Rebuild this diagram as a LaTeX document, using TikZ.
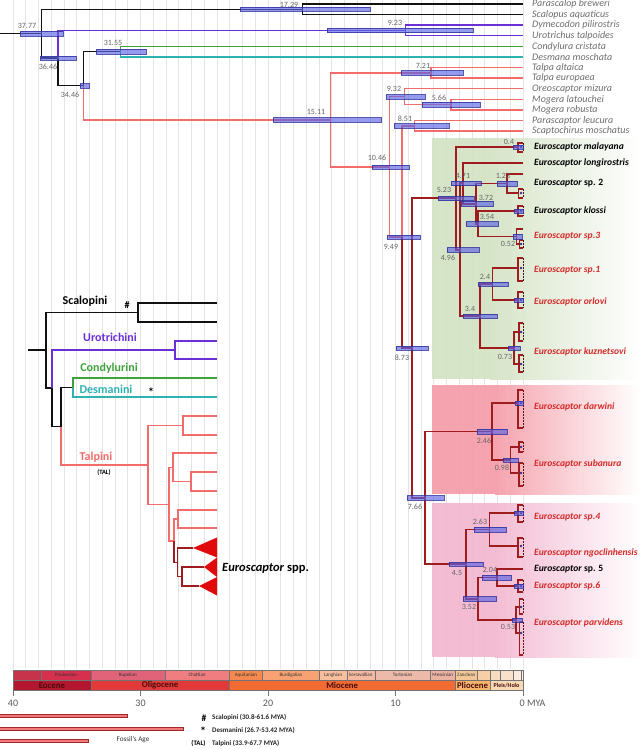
\documentclass[tikz,border=0pt]{standalone}
\usepackage{fontspec}
\setmainfont{Carlito}
\definecolor{cScal}{HTML}{111111}
\definecolor{cUro}{HTML}{6B2FD6}
\definecolor{cCon}{HTML}{3FA33A}
\definecolor{cDes}{HTML}{2FB2B2}
\definecolor{cTal}{HTML}{F36B6B}
\definecolor{cEur}{HTML}{9E1B1E}
\definecolor{hpdF}{HTML}{5C64E6}
\definecolor{hpdD}{HTML}{2E2E9A}
\definecolor{ageC}{HTML}{666666}
\definecolor{spC}{HTML}{6E6E6E}
\definecolor{redL}{HTML}{D42A2A}
\definecolor{pG}{HTML}{D2E2C2}
\definecolor{pR}{HTML}{F59AA6}
\definecolor{pP}{HTML}{F3B5CF}
\definecolor{triR}{HTML}{E00A0A}
\definecolor{gridC}{HTML}{E4E4E4}
\definecolor{epoT}{HTML}{4A0D0D}
\definecolor{fosF}{HTML}{F07A7A}
\definecolor{fosD}{HTML}{A02828}
\definecolor{sBart}{HTML}{C8334C}
\definecolor{sPria}{HTML}{D6304F}
\definecolor{sRupe}{HTML}{E0637A}
\definecolor{sChat}{HTML}{F07E80}
\definecolor{sAqui}{HTML}{F5894F}
\definecolor{sBurd}{HTML}{F8A274}
\definecolor{sLang}{HTML}{F8BF9E}
\definecolor{sSerr}{HTML}{F4B9A0}
\definecolor{sTort}{HTML}{EDB9A8}
\definecolor{sMess}{HTML}{EBB2A2}
\definecolor{sZanc}{HTML}{F3C697}
\definecolor{sPiac}{HTML}{F6CFA6}
\definecolor{sGela}{HTML}{F8DCC0}
\definecolor{sCala}{HTML}{F9E2CC}
\definecolor{sChib}{HTML}{FBEBDD}
\definecolor{sLate}{HTML}{FCF0E6}
\definecolor{eEoc}{HTML}{B3172F}
\definecolor{eOli}{HTML}{E13A38}
\definecolor{eMio}{HTML}{F26B33}
\definecolor{ePli}{HTML}{F7B56C}
\definecolor{ePle}{HTML}{F8D9B6}
\tikzset{
  gridl/.style={draw=gridC, line width=0.6pt},
  brn/.style={line width=1.4pt, line join=miter},
  cS/.style={brn, draw=cScal},
  cU/.style={brn, draw=cUro},
  cC/.style={brn, draw=cCon},
  cD/.style={brn, draw=cDes},
  cT/.style={brn, draw=cTal},
  cE/.style={line width=1.8pt, line join=miter, draw=cEur},
  tipdash/.style={draw=cEur!55!black, line width=1pt, dash pattern=on 2pt off 1pt},
  hpdbar/.style={fill=hpdF, fill opacity=0.65, draw=hpdD, draw opacity=0.8, line width=0.4pt},
  sp/.style={anchor=west, inner sep=0pt, text=spC, font=\itshape\fontsize{10}{11}\selectfont},
  eb/.style={anchor=west, inner sep=0pt, text=black, font=\bfseries\fontsize{9.6}{10}\selectfont},
  er/.style={eb, text=redL},
  age/.style={inner sep=0pt, text=ageC, font=\fontsize{8}{9}\selectfont},
  ins/.style={inner sep=0pt, font=\bfseries\fontsize{12}{13}\selectfont},
  iS/.style={line width=1.8pt, line join=miter, draw=cScal},
  iU/.style={line width=1.8pt, line join=miter, draw=cUro},
  iC/.style={line width=1.8pt, line join=miter, draw=cCon},
  iD/.style={line width=1.8pt, line join=miter, draw=cDes},
  iT/.style={line width=1.8pt, line join=miter, draw=cTal},
  iE/.style={line width=1.8pt, line join=miter, draw=cEur},
  stg/.style={inner sep=0pt, font=\fontsize{5}{5.5}\selectfont, text=black!80},
  epo/.style={inner sep=0pt, font=\bfseries\fontsize{8.8}{9}\selectfont, text=epoT},
  tsb/.style={draw=black!55, line width=0.4pt},
  axl/.style={inner sep=0pt, text=black!65, font=\fontsize{10}{11}\selectfont},
  leg/.style={anchor=west, inner sep=0pt, font=\bfseries\fontsize{7}{7.5}\selectfont, text=black!85},
}
\newcommand{\hpd}[3]{\path[hpdbar] (#1,#3-2.2) rectangle (#2,#3+2.2);}
\newcommand{\tipc}[5]{%
  \coordinate (#1) at (#2,#3);
  \coordinate (#1u) at (523,#4);
  \coordinate (#1d) at (523,#5);
  \draw[cE] (#1) |- (#1u);
  \draw[cE] (#1) |- (#1d);
  \draw[tipdash] (#1u) -- (#1d);
  \fill[hpdD] (521,#3) circle (1.4);}
\newcommand{\tsStage}[5]{%
  \path[fill=#4, tsb] (#2,670) rectangle (#3,680);
  \node[stg] (st#1) at ({(#2+#3)/2},675) {#5};}
\newcommand{\tsEpoch}[5]{%
  \path[fill=#4, tsb] (#2,680) rectangle (#3,690);
  \node[epo] (ep#1) at ({(#2+#3)/2},685.3) {#5};}
\begin{document}
\begin{tikzpicture}[x=1pt,y=-1pt]
\useasboundingbox (0,0) rectangle (640,749);
\fill[white] (0,0) rectangle (640,749);
% grid
\foreach \k in {0,...,40} \draw[gridl] ({523-12.75*\k},0) -- ({523-12.75*\k},669);
% panels
\fill[pG, fill opacity=0.9] (432,138) rectangle (490,379);
\shade[left color=pG, right color=white, fill opacity=0.9] (490,138) rectangle (640,379);
\fill[pR, fill opacity=0.9] (432,385) rectangle (495,494);
\shade[left color=pR, right color=white, fill opacity=0.9] (495,385) rectangle (640,494);
\fill[pP, fill opacity=0.9] (432,503) rectangle (495,657);
\shade[left color=pP, right color=white, fill opacity=0.9] (495,503) rectangle (640,657);

% ---------- main tree coordinates
\coordinate (root) at (0,33.7);
\coordinate (n3777) at (41.4,33.7);
\coordinate (n1729) at (302.6,9.3);
\coordinate (n3646) at (58.1,58.2);
\coordinate (n923) at (405.3,30.5);
\coordinate (n3446) at (83.6,85.8);
\coordinate (n3155) at (120.7,51.7);
\coordinate (n1511) at (330.3,119.9);
\coordinate (n721) at (431,72.9);
\coordinate (n1046) at (389.6,166.9);
\coordinate (n932) at (404.2,96.75);
\coordinate (n566) at (450.8,104.7);
\coordinate (n949) at (402,237);
\coordinate (n851) at (414.5,125.9);
\coordinate (n873) at (411.7,348);
\coordinate (n523) at (456.3,198.3);
\coordinate (n766) at (425.3,497.8);
\coordinate (n496) at (459.8,249.7);
\coordinate (n471) at (463,183.3);
\coordinate (n372) at (475.6,203.6);
\coordinate (n123) at (507.3,183.5);
\coordinate (n354) at (477.9,223.75);
\coordinate (n052) at (516.4,236.5);
\coordinate (n34) at (479.6,316);
\coordinate (n24) at (492.4,284);
\coordinate (n073) at (513.7,348);
\coordinate (n246) at (491.6,431.5);
\coordinate (n098) at (510.5,460);
\coordinate (n45) at (465.6,564.1);
\coordinate (n263) at (489.5,529.5);
\coordinate (n352) at (478.1,598.75);
\coordinate (n204) at (497,577.5);
\coordinate (n053) at (516.2,620);
% top leaves
\coordinate (lPB) at (523,4);
\coordinate (lSA) at (523,14.6);
\coordinate (lDP) at (523,25.2);
\coordinate (lUT) at (523,35.8);
\coordinate (lCC) at (523,46.4);
\coordinate (lDM) at (523,57);
\coordinate (lTA) at (523,67.6);
\coordinate (lTE) at (523,78.2);
\coordinate (lOM) at (523,88.8);
\coordinate (lML) at (523,99.4);
\coordinate (lMR) at (523,110);
\coordinate (lPL) at (523,120.6);
\coordinate (lSM) at (523,131.2);
\coordinate (lLo) at (523,163);
\coordinate (l2a) at (523,174);
\coordinate (l3a) at (523,229);
\coordinate (l5) at (523,569);

% ---------- main tree branches
\draw[cS] (root) -- (n3777);
\draw[cS] (n3777) |- (n1729);
\draw[cS] (n1729) |- (lPB);
\draw[cS] (n1729) |- (lSA);
\draw[cS] (n3777) |- (n3646);
\draw[cU] (n3646) |- (n923);
\draw[cU] (n923) |- (lDP);
\draw[cU] (n923) |- (lUT);
\draw[cS] (n3646) |- (n3446);
\draw[cS] (n3446) |- (n3155);
\draw[cC] (n3155) |- (lCC);
\draw[cD] (n3155) |- (lDM);
\draw[cT] (n3446) |- (n1511);
\draw[cT] (n1511) |- (n721);
\draw[cT] (n721) |- (lTA);
\draw[cT] (n721) |- (lTE);
\draw[cT] (n1511) |- (n1046);
\draw[cT] (n1046) |- (n932);
\draw[cT] (n932) |- (lOM);
\draw[cT] (n932) |- (n566);
\draw[cT] (n566) |- (lML);
\draw[cT] (n566) |- (lMR);
\draw[cT] (n1046) |- (n949);
\draw[cT] (n949) |- (n851);
\draw[cT] (n851) |- (lPL);
\draw[cT] (n851) |- (lSM);
\draw[cE] (n949) |- (n873);
\draw[cE] (n873) |- (n523);
\draw[cE] (n873) |- (n766);
\tipc{n040}{517.9}{147}{143}{152}
\draw[cE] (n523) |- (n040);
\draw[cE] (n523) |- (n496);
\draw[cE] (n496) |- (n471);
\draw[cE] (n496) |- (n34);
\draw[cE] (n471) |- (lLo);
\draw[cE] (n471) |- (n372);
\draw[cE] (n372) |- (n123);
\draw[cE] (n372) |- (n354);
\tipc{t2b}{518.5}{193}{189}{198}
\draw[cE] (n123) |- (l2a);
\draw[cE] (n123) |- (t2b);
\tipc{tKl}{518}{211}{206}{216}
\draw[cE] (n354) |- (tKl);
\draw[cE] (n354) |- (n052);
\tipc{t3b}{519.5}{244}{240}{248}
\draw[cE] (n052) |- (l3a);
\draw[cE] (n052) |- (t3b);
\tipc{t1}{518}{268}{258}{281}
\tipc{tOr}{518}{300}{292}{308}
\draw[cE] (n34) |- (n24);
\draw[cE] (n34) |- (n073);
\draw[cE] (n24) |- (t1);
\draw[cE] (n24) |- (tOr);
\tipc{tKu1}{519}{332}{323}{341}
\tipc{tKu2}{519}{364}{355}{372}
\draw[cE] (n073) |- (tKu1);
\draw[cE] (n073) |- (tKu2);
\draw[cE] (n766) |- (n246);
\draw[cE] (n766) |- (n45);
\tipc{tDa}{518}{403}{390}{428}
\draw[cE] (n246) |- (tDa);
\draw[cE] (n246) |- (n098);
\tipc{tSu1}{519}{447}{442}{452}
\tipc{tSu2}{519}{473}{463}{486}
\draw[cE] (n098) |- (tSu1);
\draw[cE] (n098) |- (tSu2);
\draw[cE] (n45) |- (n263);
\draw[cE] (n45) |- (n352);
\tipc{t4}{518}{513}{505}{522}
\tipc{tNg}{518}{546}{538}{557}
\draw[cE] (n263) |- (t4);
\draw[cE] (n263) |- (tNg);
\draw[cE] (n352) |- (n204);
\draw[cE] (n352) |- (n053);
\tipc{t6}{518}{586}{580}{592}
\draw[cE] (n204) |- (l5);
\draw[cE] (n204) |- (t6);
\tipc{tPa1}{519.5}{607}{599}{614}
\tipc{tPa2}{519.5}{633}{622}{655}
\draw[cE] (n053) |- (tPa1);
\draw[cE] (n053) |- (tPa2);

% ---------- HPD bars
\hpd{20}{63}{33.7}
\hpd{40}{76}{58.2}
\hpd{80}{89}{85.8}
\hpd{96}{146}{51.7}
\hpd{240}{370}{9.3}
\hpd{327}{473}{30.5}
\hpd{273}{381}{119.9}
\hpd{401}{463}{72.9}
\hpd{386}{425}{96.75}
\hpd{422}{480}{104.7}
\hpd{394}{449}{125.9}
\hpd{372}{409}{166.9}
\hpd{387}{420}{237}
\hpd{396}{428}{348}
\hpd{407}{444}{497.8}
\hpd{438}{474}{198.3}
\hpd{451}{481}{183.3}
\hpd{461}{493}{203.6}
\hpd{466}{498}{223.75}
\hpd{497}{517}{183.5}
\hpd{513}{522}{236.5}
\hpd{447}{479}{249.7}
\hpd{513}{523}{147}
\hpd{463}{497}{316}
\hpd{478}{508}{284}
\hpd{508}{520}{348}
\hpd{477}{507}{431.5}
\hpd{503}{518}{460}
\hpd{449}{483}{564.1}
\hpd{474}{506}{529.5}
\hpd{463}{496}{598.75}
\hpd{482}{511}{577.5}
\hpd{512}{522}{620}
\hpd{514}{523}{211}
\hpd{514}{523}{300}
\hpd{514}{523}{513}
\hpd{514}{523}{586}
\hpd{515}{523}{403}

% ---------- age labels
\node[age] (a3777) at (27,26) {37.77};
\node[age] (a3646) at (48,67) {36.46};
\node[age] (a3446) at (70,94.5) {34.46};
\node[age] (a3155) at (113,43) {31.55};
\node[age] (a1729) at (289,4.5) {17.29};
\node[age] (a923) at (395,22.5) {9.23};
\node[age] (a1511) at (316,112) {15.11};
\node[age] (a721) at (423,65.5) {7.21};
\node[age] (a932) at (394,89) {9.32};
\node[age] (a566) at (439,97.5) {5.66};
\node[age] (a851) at (405,118.5) {8.51};
\node[age] (a1046) at (377,158) {10.46};
\node[age] (a949) at (391,247) {9.49};
\node[age] (a873) at (402,358) {8.73};
\node[age] (a766) at (415,507) {7.66};
\node[age] (a523) at (444,189.5) {5.23};
\node[age] (a471) at (463,176) {4.71};
\node[age] (a372) at (486,198) {3.72};
\node[age] (a123) at (503,176) {1.23};
\node[age] (a354) at (487,217) {3.54};
\node[age] (a052) at (508,243.5) {0.52};
\node[age] (a496) at (448,257.5) {4.96};
\node[age] (a040) at (509,142) {0.4};
\node[age] (a24) at (485,276.5) {2.4};
\node[age] (a34) at (470,309) {3.4};
\node[age] (a073) at (505,357) {0.73};
\node[age] (a246) at (484,441) {2.46};
\node[age] (a098) at (502,468) {0.98};
\node[age] (a263) at (480,522) {2.63};
\node[age] (a45) at (457,573) {4.5};
\node[age] (a204) at (490,570) {2.04};
\node[age] (a352) at (469,607) {3.52};
\node[age] (a053) at (508,627) {0.53};

% ---------- species labels
\node[sp] (sPB) at (532,4) {Parascalop breweri};
\node[sp] (sSA) at (532,14.6) {Scalopus aquaticus};
\node[sp] (sDP) at (532,25.2) {Dymecodon pilirostris};
\node[sp] (sUT) at (532,35.8) {Urotrichus talpoides};
\node[sp] (sCC) at (532,46.4) {Condylura cristata};
\node[sp] (sDM) at (532,57) {Desmana moschata};
\node[sp] (sTA) at (532,67.6) {Talpa altaica};
\node[sp] (sTE) at (532,78.2) {Talpa europaea};
\node[sp] (sOM) at (532,88.8) {Oreoscaptor mizura};
\node[sp] (sML) at (532,99.4) {Mogera latouchei};
\node[sp] (sMR) at (532,110) {Mogera robusta};
\node[sp] (sPL) at (532,120.6) {Parascaptor leucura};
\node[sp] (sSM) at (532,131.2) {Scaptochirus moschatus};
\node[eb] (eMa) at (534,147) {\itshape Euroscaptor malayana};
\node[eb] (eLo) at (534,163) {\itshape Euroscaptor longirostris};
\node[eb] (e2) at (534,183) {\textit{Euroscaptor} sp. 2};
\node[eb] (eKl) at (534,211) {\itshape Euroscaptor klossi};
\node[er] (e3) at (534,236) {\itshape Euroscaptor sp.3};
\node[er] (e1) at (534,270) {\itshape Euroscaptor sp.1};
\node[er] (eOr) at (534,302) {\itshape Euroscaptor orlovi};
\node[er] (eKu) at (534,352) {\itshape Euroscaptor kuznetsovi};
\node[er] (eDa) at (534,407) {\itshape Euroscaptor darwini};
\node[er] (eSu) at (534,464) {\itshape Euroscaptor subanura};
\node[er] (e4) at (534,517) {\itshape Euroscaptor sp.4};
\node[er] (eNg) at (534,553) {\itshape Euroscaptor ngoclinhensis};
\node[eb] (e5) at (534,569) {\textit{Euroscaptor} sp. 5};
\node[er] (e6) at (534,586) {\itshape Euroscaptor sp.6};
\node[er] (ePa) at (534,623) {\itshape Euroscaptor parvidens};

% ---------- inset tree
\coordinate (iR) at (28,350);
\coordinate (iA) at (46,350);
\coordinate (iSc) at (138,312.5);
\coordinate (iSc1) at (217,303);
\coordinate (iSc2) at (217,322);
\coordinate (iB) at (52,388);
\coordinate (iUr) at (175,350);
\coordinate (iUr1) at (217,341);
\coordinate (iUr2) at (217,359);
\coordinate (iC) at (61,426.5);
\coordinate (iD) at (73,387.5);
\coordinate (iCo) at (217,378);
\coordinate (iDe) at (217,397);
\coordinate (iT) at (148,465);
\coordinate (iTa) at (183,425.5);
\coordinate (iTa1) at (217,416);
\coordinate (iTa2) at (217,435);
\coordinate (iN1) at (169,504.5);
\coordinate (iM1) at (173,467.5);
\coordinate (iOr) at (217,453);
\coordinate (iMo) at (191,481.5);
\coordinate (iMo1) at (217,472);
\coordinate (iMo2) at (217,491);
\coordinate (iN2) at (174,541);
\coordinate (iPs) at (178,519);
\coordinate (iPs1) at (217,510);
\coordinate (iPs2) at (217,528);
\coordinate (iE) at (177.5,562.5);
\coordinate (iF) at (182,576.5);
\coordinate (iX1) at (193,548);
\coordinate (iX2) at (204,567);
\coordinate (iX3) at (199,586);
\draw[iS] (iR) -- (iA);
\draw[iS] (iA) |- (iSc);
\draw[iS] (iSc) |- (iSc1);
\draw[iS] (iSc) |- (iSc2);
\draw[iS] (iA) |- (iB);
\draw[iU] (iB) |- (iUr);
\draw[iU] (iUr) |- (iUr1);
\draw[iU] (iUr) |- (iUr2);
\draw[iS] (iB) |- (iC);
\draw[iS] (iC) |- (iD);
\draw[iC] (iD) |- (iCo);
\draw[iD] (iD) |- (iDe);
\draw[iT] (iC) |- (iT);
\draw[iT] (iT) |- (iTa);
\draw[iT] (iTa) |- (iTa1);
\draw[iT] (iTa) |- (iTa2);
\draw[iT] (iT) |- (iN1);
\draw[iT] (iN1) |- (iM1);
\draw[iT] (iM1) |- (iOr);
\draw[iT] (iM1) |- (iMo);
\draw[iT] (iMo) |- (iMo1);
\draw[iT] (iMo) |- (iMo2);
\draw[iT] (iN1) |- (iN2);
\draw[iT] (iN2) |- (iPs);
\draw[iT] (iPs) |- (iPs1);
\draw[iT] (iPs) |- (iPs2);
\draw[iE] (iN2) |- (iE);
\draw[iE] (iE) |- (iX1);
\draw[iE] (iE) |- (iF);
\draw[iE] (iF) |- (iX2);
\draw[iE] (iF) |- (iX3);
\fill[triR] (iX1) -- (217,537.5) -- (217,557.5) -- cycle;
\fill[triR] (iX2) -- (217,557.5) -- (217,577) -- cycle;
\fill[triR] (iX3) -- (217,577) -- (217,595.5) -- cycle;
\node[ins, text=black] (lbScal) at (85,301) {Scalopini};
\node[inner sep=0pt, font=\bfseries\fontsize{10}{11}\selectfont] (lbHash) at (127,305) {\#};
\node[ins, text=cUro] (lbUro) at (110,337) {Urotrichini};
\node[ins, text=cCon] (lbCon) at (109,368) {Condylurini};
\node[ins, text=cDes] (lbDes) at (106,389) {Desmanini};
\node[inner sep=0pt, font=\bfseries\fontsize{12}{12}\selectfont] (lbStar) at (151,392) {*};
\node[ins, text=cTal] (lbTal) at (96,457) {Talpini};
\node[inner sep=0pt, font=\bfseries\fontsize{6.5}{7}\selectfont] (lbTAL) at (104,473) {(TAL)};
\node[anchor=west, inner sep=0pt, font=\bfseries\fontsize{12.5}{13}\selectfont] (lbEur) at (222,568) {\textit{Euroscaptor} spp.};

% ---------- timescale
\tsStage{Bart}{13}{41.05}{sBart}{}
\tsStage{Pria}{41.05}{90.8}{sPria}{Priabonian}
\tsStage{Rupe}{90.8}{164.7}{sRupe}{Rupelian}
\tsStage{Chat}{164.7}{229.4}{sChat}{Chattian}
\tsStage{Aqui}{229.4}{262.4}{sAqui}{Aquitanian}
\tsStage{Burd}{262.4}{319.4}{sBurd}{Burdigalian}
\tsStage{Lang}{319.4}{346.8}{sLang}{Langhian}
\tsStage{Serr}{346.8}{374.7}{sSerr}{Serravallian}
\tsStage{Tort}{374.7}{430.6}{sTort}{Tortonian}
\tsStage{Mess}{430.6}{455}{sMess}{Messinian}
\tsStage{Zanc}{455}{477.5}{sZanc}{Zanclean}
\tsStage{Piac}{477.5}{490.1}{sPiac}{}
\tsStage{Gela}{490.1}{500}{sGela}{}
\tsStage{Cala}{500}{513.1}{sCala}{}
\tsStage{Chib}{513.1}{521.4}{sChib}{}
\tsStage{Late}{521.4}{523}{sLate}{}
\tsEpoch{Eoc}{13}{90.8}{eEoc}{Eocene}
\tsEpoch{Oli}{90.8}{229.4}{eOli}{Oligocene}
\tsEpoch{Mio}{229.4}{455}{eMio}{Miocene}
\tsEpoch{Pli}{455}{490.1}{ePli}{Pliocene}
\path[fill=ePle, tsb] (490.1,680) rectangle (523,690);
\node[inner sep=0pt, font=\bfseries\fontsize{6}{6.5}\selectfont, text=epoT] (epPle) at (506.5,685.3) {Pleis/Holo};
% axis
\coordinate (ax0) at (13,690);
\coordinate (ax1) at (523,690);
\draw[black!55, line width=0.6pt] (ax0) -- (ax1);
\foreach \t/\lab in {40/40,30/30,20/20,10/10} {
  \draw[black!55, line width=0.6pt] ({523-12.75*\t},690) -- ({523-12.75*\t},696);
  \node[axl] (ax\t) at ({523-12.75*\t},703) {\lab};
}
\draw[black!55, line width=0.6pt] (523,690) -- (523,696);
\node[axl, anchor=west] (axZero) at (519.5,703) {0 MYA};

% ---------- legend
\path[fill=fosF, draw=fosD, line width=0.4pt] (-1,713.8) rectangle (127,716.8);
\path[fill=fosF, draw=fosD, line width=0.4pt] (-1,726.8) rectangle (183,729.8);
\path[fill=fosF, draw=fosD, line width=0.4pt] (-1,738.8) rectangle (88,741.8);
\node[inner sep=0pt, font=\fontsize{7.2}{8}\selectfont, text=black!80] (fos) at (133,739.5) {Fossil's Age};
\node[inner sep=0pt, font=\bfseries\fontsize{9.5}{10}\selectfont] (gHash) at (204,718) {\#};
\node[inner sep=0pt, font=\bfseries\fontsize{12}{12}\selectfont] (gStar) at (203,731) {*};
\node[inner sep=0pt, font=\bfseries\fontsize{6.8}{7.5}\selectfont] (gTAL) at (198.5,743) {(TAL)};
\node[leg] (g1) at (212,717.5) {Scalopini (30.8-61.6 MYA)};
\node[leg] (g2) at (212,730) {Desmanini (26.7-53.42 MYA)};
\node[leg] (g3) at (212,743) {Talpini (33.9-67.7 MYA)};
\end{tikzpicture}
\end{document}
